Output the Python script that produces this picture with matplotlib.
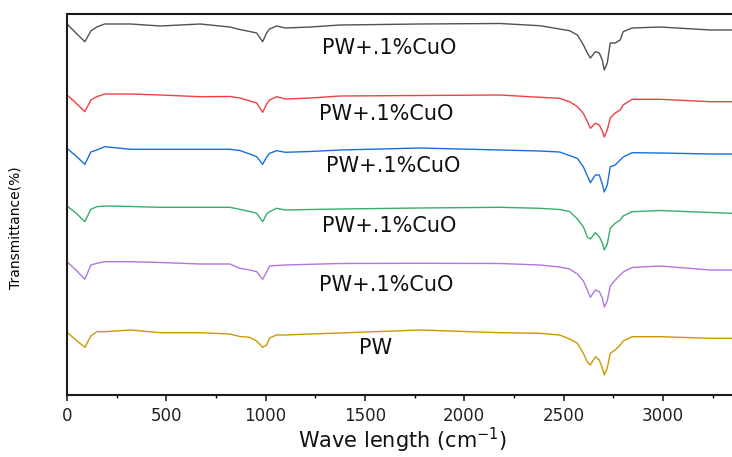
import matplotlib
matplotlib.use("Agg")
import matplotlib.pyplot as plt
from matplotlib.ticker import MultipleLocator

# wavenumber grid (cm-1)
wavenumber = [0, 45, 90, 120, 150, 190, 320, 470, 670, 820, 870, 920, 955, 985,
              1005, 1020, 1055, 1100, 1225, 1375, 1775, 2180, 2380, 2480, 2530,
              2570, 2600, 2620, 2635, 2660, 2680, 2695, 2705, 2720, 2735, 2760,
              2785, 2800, 2845, 2985, 3240, 3350]

# transmittance, arbitrary offset units (curves are stacked)
t_cuo_1 = [376, 367, 358.3, 369, 373, 376, 376, 374, 376, 373, 370.5, 368.5, 367, 358.3,
           367, 371, 374, 372, 373, 375, 376, 376.5, 374.3, 371, 369.3,
           365, 355, 347, 342, 348.3, 347, 340, 330, 337, 357, 357,
           360, 368.3, 372, 373, 370, 370]
t_cuo_2 = [305, 297, 288.3, 300, 303.3, 306, 306, 305, 303.3, 303.5, 302, 299, 297, 287.7,
           296, 300, 303.3, 301, 302, 304, 304.5, 305, 302.7, 301.7, 298.3,
           293.3, 286.5, 278.3, 271.7, 276.7, 275, 269, 263, 270, 282, 287,
           290, 295, 300.7, 300.7, 298.3, 298.3]
t_cuo_3 = [251.7, 244, 235.7, 248, 250, 253.3, 250.7, 250.7, 250.7, 250.7, 249.5, 246, 243.3, 235.7,
           243, 246.7, 249.3, 247.7, 248.5, 250, 252, 250, 249, 248, 244.5,
           241.5, 233, 224, 217.3, 225, 225, 216, 208, 215, 233.3, 235,
           240, 243, 247.3, 247, 246, 246]
t_cuo_4 = [194, 187, 178.3, 190.7, 193.3, 194, 193.5, 192.7, 192.7, 192.7, 190.7, 188.5, 186.7, 178.3,
           186, 188.3, 191.7, 190, 190.5, 191, 192, 192.7, 191.7, 190.5, 188.5,
           181, 173, 163, 161, 167.3, 163.3, 157, 150, 156, 171.7, 176.7,
           180, 184, 188.3, 189.5, 187.5, 186.7]
t_cuo_5 = [138.3, 130, 120.7, 135, 136.7, 138.3, 138.3, 137.5, 136, 136, 131.7, 130, 128.3, 120.7,
           128, 134, 134.5, 135, 135.7, 136.5, 136.7, 136.5, 135, 133, 131,
           126, 119, 110, 102.7, 110, 108.3, 102, 93, 99, 114, 120,
           125, 128, 132.5, 134, 130, 130]
t_pw = [67.7, 60, 52.7, 64, 68.3, 68.3, 70, 67.3, 67.3, 66, 63.5, 62.7, 59, 52.7,
        55, 62, 65, 65, 66, 67, 70, 67.3, 66.7, 65, 61,
        56.7, 46.5, 38, 35, 43.3, 40, 32, 25, 32, 46.7, 50,
        55, 59, 63.3, 63.3, 61.7, 61.7]

series = [t_cuo_1, t_cuo_2, t_cuo_3, t_cuo_4, t_cuo_5, t_pw]
labels = ["PW+.1%CuO", "PW+.1%CuO", "PW+.1%CuO", "PW+.1%CuO", "PW+.1%CuO", "PW"]
colors = ["#515151", "#F14040", "#1A6FDF", "#37AD6B", "#B177DE", "#CC9900"]
label_x = [1621, 1609, 1641, 1621, 1606, 1556]
label_y = [352, 286, 233.5, 174, 115, 52]

fig = plt.figure(figsize=(7.32, 4.57), dpi=100)
ax = fig.add_axes([67 / 732, 62.5 / 457, 665 / 732, 381 / 457])

for y, c in zip(series, colors):
    ax.plot(wavenumber, y, color=c, lw=1.0)

for lx, ly, txt in zip(label_x, label_y, labels):
    ax.text(lx, ly, txt, ha="center", va="center", fontsize=15, color="#111111")

ax.set_xlim(0, 3348)
ax.set_ylim(5.5, 386.5)

ax.xaxis.set_major_locator(MultipleLocator(500))
ax.xaxis.set_minor_locator(MultipleLocator(250))
ax.tick_params(axis="x", which="major", direction="out", length=4, width=1.2,
               labelsize=12, pad=5, colors="#222222")
ax.tick_params(axis="x", which="minor", direction="out", length=2.5, width=1.0)
ax.set_yticks([])

for s in ("top", "left", "bottom"):
    ax.spines[s].set_linewidth(1.5)
    ax.spines[s].set_color("#1a1a1a")
ax.spines["right"].set_visible(False)

ax.set_xlabel("Wave length (cm$^{-1}$)", fontsize=15, va="center", color="#111111")
ax.xaxis.set_label_coords(336 / 665, -46 / 381)
ax.set_ylabel("Transmittance(%)", fontsize=10, va="center")
ax.yaxis.set_label_coords(-51 / 665, 0.437)

fig.savefig("out.png", dpi=100)
